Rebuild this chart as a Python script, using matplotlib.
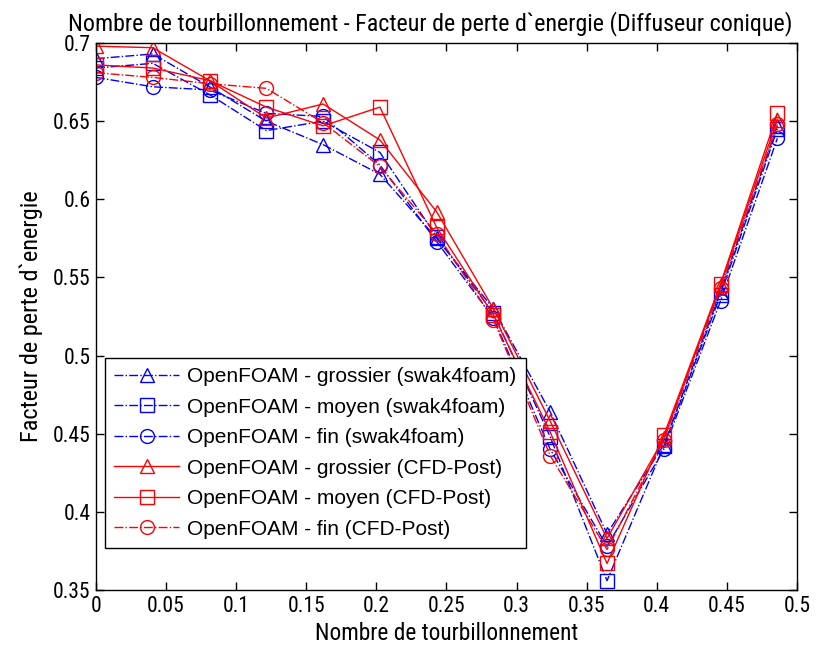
import matplotlib
matplotlib.use("Agg")
import matplotlib.pyplot as plt

# Nombre de tourbillonnement (swirl number)
swirl = [0.0, 0.0405, 0.081, 0.1215, 0.162, 0.2025, 0.243, 0.2835, 0.324, 0.3645, 0.405, 0.4455, 0.486]

# swak4foam results
swak_grossier = [0.690, 0.693, 0.672, 0.650, 0.635, 0.616, 0.575, 0.530, 0.464, 0.386, 0.443, 0.541, 0.647]
swak_moyen = [0.684, 0.687, 0.667, 0.644, 0.650, 0.630, 0.576, 0.527, 0.448, 0.356, 0.442, 0.539, 0.645]
swak_fin = [0.678, 0.672, 0.670, 0.655, 0.653, 0.622, 0.573, 0.524, 0.440, 0.378, 0.440, 0.535, 0.639]

# CFD-Post results
cfd_grossier = [0.698, 0.697, 0.676, 0.652, 0.661, 0.638, 0.592, 0.530, 0.458, 0.383, 0.447, 0.545, 0.651]
cfd_moyen = [0.686, 0.684, 0.676, 0.659, 0.647, 0.659, 0.582, 0.526, 0.451, 0.367, 0.449, 0.546, 0.655]
cfd_fin = [0.681, 0.678, 0.674, 0.671, 0.649, 0.621, 0.578, 0.523, 0.436, 0.376, 0.446, 0.543, 0.648]

labels = ["OpenFOAM - grossier (swak4foam)", "OpenFOAM - moyen (swak4foam)", "OpenFOAM - fin (swak4foam)",
          "OpenFOAM - grossier (CFD-Post)", "OpenFOAM - moyen (CFD-Post)", "OpenFOAM - fin (CFD-Post)"]

narrow = "Roboto Condensed"
fs = 15.5

fig = plt.figure(figsize=(8.17, 6.47), dpi=100)
ax = fig.add_axes([0.1175, 0.088, 0.858, 0.8455])

ms = 10
ax.plot(swirl, swak_grossier, "b-.", marker="^", ms=ms, mfc="none", lw=1, label=labels[0])
ax.plot(swirl, swak_moyen, "b-.", marker="s", ms=ms, mfc="none", lw=1, label=labels[1])
ax.plot(swirl, swak_fin, "b-.", marker="o", ms=ms, mfc="none", lw=1, label=labels[2])
ax.plot(swirl, cfd_grossier, "r-", marker="^", ms=ms, mfc="none", lw=1, label=labels[3])
ax.plot(swirl, cfd_moyen, "r-", marker="s", ms=ms, mfc="none", lw=1, label=labels[4])
ax.plot(swirl, cfd_fin, "r-.", marker="o", ms=ms, mfc="none", lw=1, label=labels[5])

ax.set_xlim(0, 0.5)
ax.set_ylim(0.35, 0.7)
ax.set_xticks([0, 0.05, 0.1, 0.15, 0.2, 0.25, 0.3, 0.35, 0.4, 0.45, 0.5])
ax.set_xticklabels(["0", "0.05", "0.1", "0.15", "0.2", "0.25", "0.3", "0.35", "0.4", "0.45", "0.5"])
ax.set_yticks([0.35, 0.4, 0.45, 0.5, 0.55, 0.6, 0.65, 0.7])
ax.set_yticklabels(["0.35", "0.4", "0.45", "0.5", "0.55", "0.6", "0.65", "0.7"])
ax.tick_params(direction="in", top=True, right=True, length=6, width=1, labelsize=fs, pad=4)
for lab in ax.get_xticklabels() + ax.get_yticklabels():
    lab.set_family(narrow)
for sp in ax.spines.values():
    sp.set_linewidth(1)

ax.set_title("Nombre de tourbillonnement - Facteur de perte d`energie (Diffuseur conique)",
             family=narrow, fontsize=17.3, pad=9, x=0.477)
ax.set_xlabel("Nombre de tourbillonnement", family=narrow, fontsize=16.8, labelpad=4)
ax.set_ylabel("Facteur de perte d`energie", family=narrow, fontsize=17.5, labelpad=7)

leg = ax.legend(loc="lower left", bbox_to_anchor=(0.013, 0.077), prop={"family": "Liberation Sans", "size": 15},
                fancybox=False, framealpha=1, edgecolor="black", handlelength=3.1, borderpad=0.45,
                labelspacing=0.55, handletextpad=0.4, borderaxespad=0)
leg.get_frame().set_linewidth(1)

fig.savefig("out.png", dpi=100)
